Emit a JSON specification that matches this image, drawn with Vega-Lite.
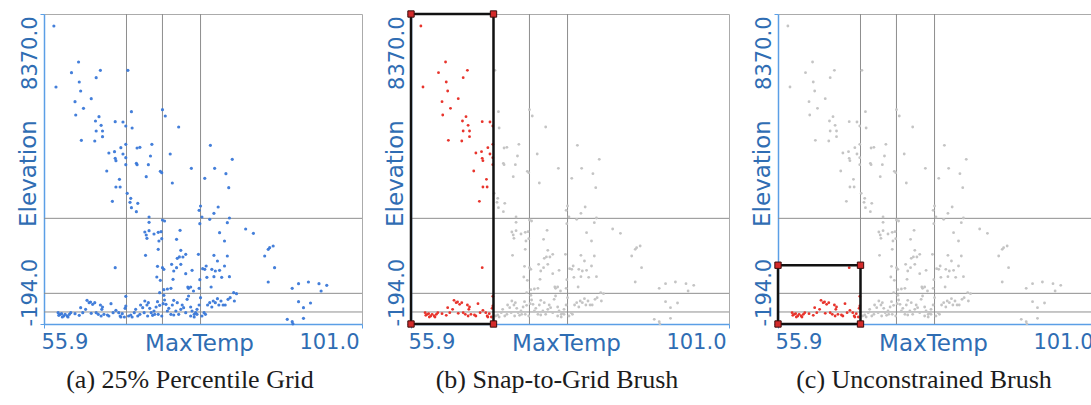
{
  "$schema": "https://vega.github.io/schema/vega-lite/v6.json",
  "padding": {"left": 16, "top": 8, "right": 0, "bottom": 0},
  "bounds": "flush",
  "spacing": 49,
  "datasets": {
    "stations": [
      {"MaxTemp": 57.3, "Elevation": 8039}, {"MaxTemp": 57.6, "Elevation": 6354}, {"MaxTemp": 60.8, "Elevation": 7044},
      {"MaxTemp": 59.8, "Elevation": 6749}, {"MaxTemp": 60.9, "Elevation": 6492}, {"MaxTemp": 61.1, "Elevation": 6243},
      {"MaxTemp": 63.9, "Elevation": 6814}, {"MaxTemp": 63.3, "Elevation": 6611}, {"MaxTemp": 67.8, "Elevation": 6814},
      {"MaxTemp": 60.3, "Elevation": 5948}, {"MaxTemp": 62.6, "Elevation": 6031}, {"MaxTemp": 61.5, "Elevation": 5764},
      {"MaxTemp": 60.4, "Elevation": 5580}, {"MaxTemp": 61.2, "Elevation": 4880}, {"MaxTemp": 63.2, "Elevation": 5414},
      {"MaxTemp": 63.7, "Elevation": 5534}, {"MaxTemp": 64.0, "Elevation": 5295}, {"MaxTemp": 64.2, "Elevation": 5138},
      {"MaxTemp": 63.3, "Elevation": 5138}, {"MaxTemp": 64.2, "Elevation": 4981}, {"MaxTemp": 63.1, "Elevation": 4862},
      {"MaxTemp": 68.3, "Elevation": 5672}, {"MaxTemp": 68.4, "Elevation": 5221}, {"MaxTemp": 72.7, "Elevation": 5727},
      {"MaxTemp": 73.1, "Elevation": 5552}, {"MaxTemp": 75.0, "Elevation": 5248}, {"MaxTemp": 66.0, "Elevation": 5396},
      {"MaxTemp": 67.1, "Elevation": 5387}, {"MaxTemp": 67.5, "Elevation": 5276}, {"MaxTemp": 67.5, "Elevation": 4770},
      {"MaxTemp": 69.1, "Elevation": 4668}, {"MaxTemp": 69.5, "Elevation": 4687}, {"MaxTemp": 71.2, "Elevation": 4770},
      {"MaxTemp": 65.1, "Elevation": 4530}, {"MaxTemp": 65.9, "Elevation": 4567}, {"MaxTemp": 66.0, "Elevation": 4383},
      {"MaxTemp": 66.1, "Elevation": 4318}, {"MaxTemp": 67.1, "Elevation": 4503}, {"MaxTemp": 67.5, "Elevation": 4401},
      {"MaxTemp": 67.5, "Elevation": 4208}, {"MaxTemp": 69.0, "Elevation": 4245}, {"MaxTemp": 69.1, "Elevation": 4208},
      {"MaxTemp": 70.7, "Elevation": 4208}, {"MaxTemp": 71.0, "Elevation": 4447}, {"MaxTemp": 66.8, "Elevation": 4678},
      {"MaxTemp": 64.8, "Elevation": 4033}, {"MaxTemp": 66.6, "Elevation": 3803}, {"MaxTemp": 66.1, "Elevation": 3591},
      {"MaxTemp": 66.7, "Elevation": 3591}, {"MaxTemp": 70.4, "Elevation": 3876}, {"MaxTemp": 72.4, "Elevation": 4024},
      {"MaxTemp": 72.6, "Elevation": 3987}, {"MaxTemp": 73.8, "Elevation": 4503}, {"MaxTemp": 74.1, "Elevation": 3701},
      {"MaxTemp": 76.8, "Elevation": 4107}, {"MaxTemp": 79.5, "Elevation": 4742}, {"MaxTemp": 80.1, "Elevation": 4107},
      {"MaxTemp": 78.7, "Elevation": 3830}, {"MaxTemp": 82.6, "Elevation": 4355}, {"MaxTemp": 81.7, "Elevation": 3959},
      {"MaxTemp": 82.1, "Elevation": 3572}, {"MaxTemp": 65.6, "Elevation": 3195}, {"MaxTemp": 67.7, "Elevation": 3416},
      {"MaxTemp": 68.2, "Elevation": 3278}, {"MaxTemp": 68.1, "Elevation": 3167}, {"MaxTemp": 68.3, "Elevation": 3020},
      {"MaxTemp": 69.2, "Elevation": 3140}, {"MaxTemp": 69.0, "Elevation": 2909}, {"MaxTemp": 70.8, "Elevation": 2762},
      {"MaxTemp": 70.8, "Elevation": 2615}, {"MaxTemp": 70.2, "Elevation": 2348}, {"MaxTemp": 70.5, "Elevation": 2173},
      {"MaxTemp": 70.4, "Elevation": 2265}, {"MaxTemp": 70.8, "Elevation": 2385}, {"MaxTemp": 71.5, "Elevation": 2292},
      {"MaxTemp": 72.1, "Elevation": 2338}, {"MaxTemp": 72.2, "Elevation": 2099}, {"MaxTemp": 72.1, "Elevation": 1869},
      {"MaxTemp": 72.6, "Elevation": 2163}, {"MaxTemp": 70.3, "Elevation": 1703}, {"MaxTemp": 72.5, "Elevation": 2357},
      {"MaxTemp": 72.7, "Elevation": 2679}, {"MaxTemp": 73.0, "Elevation": 2652}, {"MaxTemp": 74.7, "Elevation": 2145},
      {"MaxTemp": 75.2, "Elevation": 2394}, {"MaxTemp": 78.1, "Elevation": 3066}, {"MaxTemp": 77.9, "Elevation": 2946},
      {"MaxTemp": 78.3, "Elevation": 2762}, {"MaxTemp": 78.0, "Elevation": 2578}, {"MaxTemp": 79.4, "Elevation": 2698},
      {"MaxTemp": 80.0, "Elevation": 2863}, {"MaxTemp": 80.6, "Elevation": 3038}, {"MaxTemp": 82.2, "Elevation": 2734},
      {"MaxTemp": 81.9, "Elevation": 2606}, {"MaxTemp": 80.8, "Elevation": 2329}, {"MaxTemp": 81.5, "Elevation": 2099},
      {"MaxTemp": 84.5, "Elevation": 2431}, {"MaxTemp": 85.6, "Elevation": 2311}, {"MaxTemp": 87.7, "Elevation": 1869},
      {"MaxTemp": 87.9, "Elevation": 1915}, {"MaxTemp": 88.4, "Elevation": 1961}, {"MaxTemp": 87.2, "Elevation": 1685},
      {"MaxTemp": 88.6, "Elevation": 1362}, {"MaxTemp": 87.7, "Elevation": 966}, {"MaxTemp": 75.3, "Elevation": 1841},
      {"MaxTemp": 75.6, "Elevation": 1657}, {"MaxTemp": 76.0, "Elevation": 1731}, {"MaxTemp": 75.1, "Elevation": 1660},
      {"MaxTemp": 74.8, "Elevation": 1620}, {"MaxTemp": 74.0, "Elevation": 1454}, {"MaxTemp": 74.7, "Elevation": 1362},
      {"MaxTemp": 75.3, "Elevation": 1454}, {"MaxTemp": 76.9, "Elevation": 1289}, {"MaxTemp": 77.8, "Elevation": 1731},
      {"MaxTemp": 80.0, "Elevation": 1703}, {"MaxTemp": 80.5, "Elevation": 1546}, {"MaxTemp": 79.7, "Elevation": 1316},
      {"MaxTemp": 78.9, "Elevation": 1408}, {"MaxTemp": 80.2, "Elevation": 1270}, {"MaxTemp": 80.8, "Elevation": 1289},
      {"MaxTemp": 81.9, "Elevation": 1685}, {"MaxTemp": 81.5, "Elevation": 1408}, {"MaxTemp": 82.2, "Elevation": 1114},
      {"MaxTemp": 80.0, "Elevation": 1114}, {"MaxTemp": 79.0, "Elevation": 1095}, {"MaxTemp": 78.7, "Elevation": 1316},
      {"MaxTemp": 78.4, "Elevation": 1335}, {"MaxTemp": 72.7, "Elevation": 1362}, {"MaxTemp": 72.9, "Elevation": 1316},
      {"MaxTemp": 72.0, "Elevation": 1399}, {"MaxTemp": 71.9, "Elevation": 1104}, {"MaxTemp": 74.3, "Elevation": 1270},
      {"MaxTemp": 74.2, "Elevation": 1040}, {"MaxTemp": 76.0, "Elevation": 1197}, {"MaxTemp": 72.4, "Elevation": 1012},
      {"MaxTemp": 72.9, "Elevation": 755}, {"MaxTemp": 73.4, "Elevation": 773}, {"MaxTemp": 73.9, "Elevation": 791},
      {"MaxTemp": 72.9, "Elevation": 598}, {"MaxTemp": 72.3, "Elevation": 672}, {"MaxTemp": 76.3, "Elevation": 828},
      {"MaxTemp": 76.4, "Elevation": 791}, {"MaxTemp": 76.7, "Elevation": 828}, {"MaxTemp": 77.1, "Elevation": 718},
      {"MaxTemp": 77.9, "Elevation": 791}, {"MaxTemp": 78.0, "Elevation": 1031}, {"MaxTemp": 79.6, "Elevation": 828},
      {"MaxTemp": 81.1, "Elevation": 1095}, {"MaxTemp": 82.8, "Elevation": 672}, {"MaxTemp": 83.2, "Elevation": 644},
      {"MaxTemp": 66.0, "Elevation": 1362}, {"MaxTemp": 67.5, "Elevation": 570}, {"MaxTemp": 91.1, "Elevation": 791},
      {"MaxTemp": 92.0, "Elevation": 920}, {"MaxTemp": 93.4, "Elevation": 966}, {"MaxTemp": 94.9, "Elevation": 920},
      {"MaxTemp": 96.0, "Elevation": 874}, {"MaxTemp": 95.2, "Elevation": 718}, {"MaxTemp": 92.0, "Elevation": 423},
      {"MaxTemp": 93.7, "Elevation": 386}, {"MaxTemp": 92.7, "Elevation": 257}, {"MaxTemp": 92.7, "Elevation": -37},
      {"MaxTemp": 90.4, "Elevation": -65}, {"MaxTemp": 91.1, "Elevation": -130}, {"MaxTemp": 91.2, "Elevation": -190},
      {"MaxTemp": 57.9, "Elevation": 119}, {"MaxTemp": 58.2, "Elevation": 73}, {"MaxTemp": 58.4, "Elevation": 91},
      {"MaxTemp": 58.7, "Elevation": 27}, {"MaxTemp": 58.9, "Elevation": 73}, {"MaxTemp": 59.2, "Elevation": 27},
      {"MaxTemp": 59.5, "Elevation": 73}, {"MaxTemp": 59.7, "Elevation": 119}, {"MaxTemp": 58.5, "Elevation": -1},
      {"MaxTemp": 59.3, "Elevation": -1}, {"MaxTemp": 60.3, "Elevation": 91}, {"MaxTemp": 61.1, "Elevation": 257},
      {"MaxTemp": 61.4, "Elevation": 119}, {"MaxTemp": 61.8, "Elevation": 211}, {"MaxTemp": 62.0, "Elevation": 460},
      {"MaxTemp": 62.3, "Elevation": 395}, {"MaxTemp": 62.5, "Elevation": 414}, {"MaxTemp": 62.8, "Elevation": 349},
      {"MaxTemp": 63.1, "Elevation": 395}, {"MaxTemp": 63.3, "Elevation": 119}, {"MaxTemp": 63.6, "Elevation": 73},
      {"MaxTemp": 63.9, "Elevation": 331}, {"MaxTemp": 64.1, "Elevation": 211}, {"MaxTemp": 64.2, "Elevation": 276},
      {"MaxTemp": 64.0, "Elevation": 27}, {"MaxTemp": 64.4, "Elevation": 73}, {"MaxTemp": 64.9, "Elevation": 55},
      {"MaxTemp": 65.4, "Elevation": 368}, {"MaxTemp": 65.7, "Elevation": 119}, {"MaxTemp": 66.1, "Elevation": 184},
      {"MaxTemp": 66.5, "Elevation": 119}, {"MaxTemp": 66.7, "Elevation": 27}, {"MaxTemp": 67.0, "Elevation": 91},
      {"MaxTemp": 67.4, "Elevation": 239}, {"MaxTemp": 67.5, "Elevation": 303}, {"MaxTemp": 67.9, "Elevation": 27},
      {"MaxTemp": 68.2, "Elevation": 55}, {"MaxTemp": 68.4, "Elevation": -1}, {"MaxTemp": 68.7, "Elevation": 119},
      {"MaxTemp": 68.9, "Elevation": 211}, {"MaxTemp": 69.2, "Elevation": 27}, {"MaxTemp": 69.5, "Elevation": 73},
      {"MaxTemp": 69.6, "Elevation": 331}, {"MaxTemp": 69.9, "Elevation": 257}, {"MaxTemp": 70.1, "Elevation": 119},
      {"MaxTemp": 70.2, "Elevation": 441}, {"MaxTemp": 70.5, "Elevation": 331}, {"MaxTemp": 70.7, "Elevation": 395},
      {"MaxTemp": 70.9, "Elevation": 239}, {"MaxTemp": 71.1, "Elevation": 119}, {"MaxTemp": 71.3, "Elevation": 45},
      {"MaxTemp": 71.5, "Elevation": 165}, {"MaxTemp": 71.8, "Elevation": 276}, {"MaxTemp": 72.0, "Elevation": 423},
      {"MaxTemp": 72.1, "Elevation": 73}, {"MaxTemp": 72.3, "Elevation": 322}, {"MaxTemp": 72.6, "Elevation": 27},
      {"MaxTemp": 72.8, "Elevation": 368}, {"MaxTemp": 73.0, "Elevation": 469}, {"MaxTemp": 73.2, "Elevation": 349},
      {"MaxTemp": 73.4, "Elevation": 165}, {"MaxTemp": 73.6, "Elevation": 239}, {"MaxTemp": 73.9, "Elevation": 73},
      {"MaxTemp": 74.1, "Elevation": 331}, {"MaxTemp": 74.3, "Elevation": 460}, {"MaxTemp": 74.6, "Elevation": 165},
      {"MaxTemp": 74.8, "Elevation": 395}, {"MaxTemp": 75.0, "Elevation": 73}, {"MaxTemp": 75.3, "Elevation": 211},
      {"MaxTemp": 75.5, "Elevation": 331}, {"MaxTemp": 75.7, "Elevation": 257}, {"MaxTemp": 76.0, "Elevation": 119},
      {"MaxTemp": 76.2, "Elevation": 487}, {"MaxTemp": 76.4, "Elevation": 580}, {"MaxTemp": 76.7, "Elevation": 276},
      {"MaxTemp": 76.9, "Elevation": 165}, {"MaxTemp": 77.2, "Elevation": 73}, {"MaxTemp": 77.4, "Elevation": 119},
      {"MaxTemp": 77.6, "Elevation": 211}, {"MaxTemp": 77.9, "Elevation": 331}, {"MaxTemp": 78.1, "Elevation": 534},
      {"MaxTemp": 78.3, "Elevation": 27}, {"MaxTemp": 78.6, "Elevation": 119}, {"MaxTemp": 78.8, "Elevation": 73},
      {"MaxTemp": 79.1, "Elevation": 331}, {"MaxTemp": 79.4, "Elevation": 395}, {"MaxTemp": 79.7, "Elevation": 276},
      {"MaxTemp": 79.9, "Elevation": 441}, {"MaxTemp": 80.2, "Elevation": 395}, {"MaxTemp": 80.5, "Elevation": 506},
      {"MaxTemp": 80.7, "Elevation": 331}, {"MaxTemp": 81.0, "Elevation": 441}, {"MaxTemp": 81.3, "Elevation": 331},
      {"MaxTemp": 81.6, "Elevation": 331}, {"MaxTemp": 82.0, "Elevation": 487}, {"MaxTemp": 82.3, "Elevation": 534},
      {"MaxTemp": 82.9, "Elevation": 441}, {"MaxTemp": 66.8, "Elevation": -1}, {"MaxTemp": 67.3, "Elevation": -1},
      {"MaxTemp": 76.7, "Elevation": 27}, {"MaxTemp": 77.2, "Elevation": -1}, {"MaxTemp": 77.6, "Elevation": 73},
      {"MaxTemp": 71.6, "Elevation": 73}, {"MaxTemp": 70.6, "Elevation": 27}, {"MaxTemp": 74.3, "Elevation": 55},
      {"MaxTemp": 58.0, "Elevation": 45}, {"MaxTemp": 60.9, "Elevation": 45}, {"MaxTemp": 62.6, "Elevation": 100},
      {"MaxTemp": 65.1, "Elevation": 27}
    ],
    "tempCuts": [{"MaxTemp": 67.6}, {"MaxTemp": 72.7}, {"MaxTemp": 78.1}],
    "elevCuts": [{"Elevation": 138}, {"Elevation": 653}, {"Elevation": 2725}],
    "snapBrush": [{"MaxTemp": 55.9, "MaxTemp2": 67.6, "Elevation": -194, "Elevation2": 8370}],
    "snapHandles": [
      {"MaxTemp": 55.9, "Elevation": -194}, {"MaxTemp": 67.6, "Elevation": -194},
      {"MaxTemp": 55.9, "Elevation": 8370}, {"MaxTemp": 67.6, "Elevation": 8370}
    ],
    "freeBrush": [{"MaxTemp": 55.9, "MaxTemp2": 67.6, "Elevation": -194, "Elevation2": 1430}],
    "freeHandles": [
      {"MaxTemp": 55.9, "Elevation": -194}, {"MaxTemp": 67.6, "Elevation": -194},
      {"MaxTemp": 55.9, "Elevation": 1430}, {"MaxTemp": 67.6, "Elevation": 1430}
    ]
  },
  "hconcat": [
    {
      "width": 318,
      "height": 310,
      "title": {"text": "(a) 25% Percentile Grid", "font": "Liberation Serif"},
      "layer": [
        {
          "data": {"name": "tempCuts"},
          "mark": {"type": "rule", "color": "#8e8e8e", "strokeWidth": 1},
          "encoding": {"x": {"field": "MaxTemp", "type": "quantitative", "title": "MaxTemp", "scale": {"domain": [55.9, 101], "nice": false, "zero": false}}}
        },
        {
          "data": {"name": "elevCuts"},
          "mark": {"type": "rule", "color": "#8e8e8e", "strokeWidth": 1},
          "encoding": {"y": {"field": "Elevation", "type": "quantitative", "title": "Elevation", "scale": {"domain": [-194, 8370], "nice": false, "zero": false}}}
        },
        {
          "data": {"name": "stations"},
          "mark": {"type": "circle", "size": 10, "color": "#3a78d8", "opacity": 0.95},
          "encoding": {
            "x": {"field": "MaxTemp", "type": "quantitative", "title": "MaxTemp", "scale": {"domain": [55.9, 101], "nice": false, "zero": false},
                  "axis": {"values": [55.9, 101], "format": ".1f"}},
            "y": {"field": "Elevation", "type": "quantitative", "title": "Elevation", "scale": {"domain": [-194, 8370], "nice": false, "zero": false},
                  "axis": {"values": [-194, 8370], "format": ".1f", "labelExpr": "replace(datum.label, '\u2212', '-')",
                           "labelAlign": {"condition": {"test": "datum.value < 0", "value": "left"}, "value": "right"}}}
          }
        }
      ]
    },
    {
      "width": 318,
      "height": 310,
      "title": {"text": "(b) Snap-to-Grid Brush", "font": "Liberation Serif"},
      "layer": [
        {
          "data": {"name": "tempCuts"},
          "mark": {"type": "rule", "color": "#8e8e8e", "strokeWidth": 1},
          "encoding": {"x": {"field": "MaxTemp", "type": "quantitative", "title": "MaxTemp", "scale": {"domain": [55.9, 101], "nice": false, "zero": false}}}
        },
        {
          "data": {"name": "elevCuts"},
          "mark": {"type": "rule", "color": "#8e8e8e", "strokeWidth": 1},
          "encoding": {"y": {"field": "Elevation", "type": "quantitative", "title": "Elevation", "scale": {"domain": [-194, 8370], "nice": false, "zero": false}}}
        },
        {
          "data": {"name": "stations"},
          "mark": {"type": "circle", "size": 8, "opacity": 1},
          "encoding": {
            "x": {"field": "MaxTemp", "type": "quantitative", "title": "MaxTemp", "scale": {"domain": [55.9, 101], "nice": false, "zero": false},
                  "axis": {"values": [55.9, 101], "format": ".1f"}},
            "y": {"field": "Elevation", "type": "quantitative", "title": "Elevation", "scale": {"domain": [-194, 8370], "nice": false, "zero": false},
                  "axis": {"values": [-194, 8370], "format": ".1f", "labelExpr": "replace(datum.label, '\u2212', '-')",
                           "labelAlign": {"condition": {"test": "datum.value < 0", "value": "left"}, "value": "right"}}},
            "color": {"condition": {"test": "datum.MaxTemp <= 67.6", "value": "#e8342c"}, "value": "#c4c4c4"}
          }
        },
        {
          "data": {"name": "snapBrush"},
          "mark": {"type": "rect", "fill": "#ffffff", "fillOpacity": 0, "stroke": "#111111", "strokeWidth": 2.5},
          "encoding": {
            "x": {"field": "MaxTemp", "type": "quantitative", "title": "MaxTemp", "scale": {"domain": [55.9, 101], "nice": false, "zero": false}},
            "x2": {"field": "MaxTemp2"},
            "y": {"field": "Elevation", "type": "quantitative", "title": "Elevation", "scale": {"domain": [-194, 8370], "nice": false, "zero": false}},
            "y2": {"field": "Elevation2"}
          }
        },
        {
          "data": {"name": "snapHandles"},
          "mark": {"type": "square", "size": 40, "filled": true, "color": "#d42a2a", "stroke": "#3a0c0c", "strokeWidth": 1, "opacity": 1},
          "encoding": {
            "x": {"field": "MaxTemp", "type": "quantitative", "title": "MaxTemp", "scale": {"domain": [55.9, 101], "nice": false, "zero": false}},
            "y": {"field": "Elevation", "type": "quantitative", "title": "Elevation", "scale": {"domain": [-194, 8370], "nice": false, "zero": false}}
          }
        }
      ]
    },
    {
      "width": 318,
      "height": 310,
      "title": {"text": "(c) Unconstrained Brush", "font": "Liberation Serif"},
      "layer": [
        {
          "data": {"name": "tempCuts"},
          "mark": {"type": "rule", "color": "#8e8e8e", "strokeWidth": 1},
          "encoding": {"x": {"field": "MaxTemp", "type": "quantitative", "title": "MaxTemp", "scale": {"domain": [55.9, 101], "nice": false, "zero": false}}}
        },
        {
          "data": {"name": "elevCuts"},
          "mark": {"type": "rule", "color": "#8e8e8e", "strokeWidth": 1},
          "encoding": {"y": {"field": "Elevation", "type": "quantitative", "title": "Elevation", "scale": {"domain": [-194, 8370], "nice": false, "zero": false}}}
        },
        {
          "data": {"name": "stations"},
          "mark": {"type": "circle", "size": 8, "opacity": 1},
          "encoding": {
            "x": {"field": "MaxTemp", "type": "quantitative", "title": "MaxTemp", "scale": {"domain": [55.9, 101], "nice": false, "zero": false},
                  "axis": {"values": [55.9, 101], "format": ".1f"}},
            "y": {"field": "Elevation", "type": "quantitative", "title": "Elevation", "scale": {"domain": [-194, 8370], "nice": false, "zero": false},
                  "axis": {"values": [-194, 8370], "format": ".1f", "labelExpr": "replace(datum.label, '\u2212', '-')",
                           "labelAlign": {"condition": {"test": "datum.value < 0", "value": "left"}, "value": "right"}}},
            "color": {"condition": {"test": "datum.MaxTemp <= 67.6 && datum.Elevation <= 1430", "value": "#e8342c"}, "value": "#c4c4c4"}
          }
        },
        {
          "data": {"name": "freeBrush"},
          "mark": {"type": "rect", "fill": "#ffffff", "fillOpacity": 0, "stroke": "#111111", "strokeWidth": 2.5},
          "encoding": {
            "x": {"field": "MaxTemp", "type": "quantitative", "title": "MaxTemp", "scale": {"domain": [55.9, 101], "nice": false, "zero": false}},
            "x2": {"field": "MaxTemp2"},
            "y": {"field": "Elevation", "type": "quantitative", "title": "Elevation", "scale": {"domain": [-194, 8370], "nice": false, "zero": false}},
            "y2": {"field": "Elevation2"}
          }
        },
        {
          "data": {"name": "freeHandles"},
          "mark": {"type": "square", "size": 40, "filled": true, "color": "#d42a2a", "stroke": "#3a0c0c", "strokeWidth": 1, "opacity": 1},
          "encoding": {
            "x": {"field": "MaxTemp", "type": "quantitative", "title": "MaxTemp", "scale": {"domain": [55.9, 101], "nice": false, "zero": false}},
            "y": {"field": "Elevation", "type": "quantitative", "title": "Elevation", "scale": {"domain": [-194, 8370], "nice": false, "zero": false}}
          }
        }
      ]
    }
  ],
  "config": {
    "background": "#ffffff",
    "view": {"stroke": "#ababab", "strokeWidth": 1},
    "axis": {
      "domainColor": "#5b9fe6", "domainWidth": 1.5, "tickColor": "#5b9fe6", "tickSize": 4, "ticks": true, "grid": false,
      "labelFont": "DejaVu Sans", "labelFontSize": 21, "labelColor": "#2f6db3",
      "titleFont": "DejaVu Sans", "titleFontSize": 23, "titleFontWeight": "normal", "titleColor": "#2f6db3"
    },
    "axisX": {"labelPadding": 3, "labelFlush": true, "labelOffset": -3, "titleX": 155, "titleY": 26, "titleBaseline": "alphabetic"},
    "axisY": {"labelPadding": 3.5, "labelAngle": -90, "labelBaseline": "alphabetic", "labelOffset": 2,
              "titleX": -9, "titleY": 159, "titleBaseline": "alphabetic", "titleAngle": -90, "titleAlign": "center"},
    "title": {"orient": "bottom", "font": "Liberation Serif", "fontSize": 26, "fontWeight": "normal", "color": "#1c1c1c",
              "offset": 12, "dx": -13, "anchor": "middle", "frame": "group"}
  }
}
